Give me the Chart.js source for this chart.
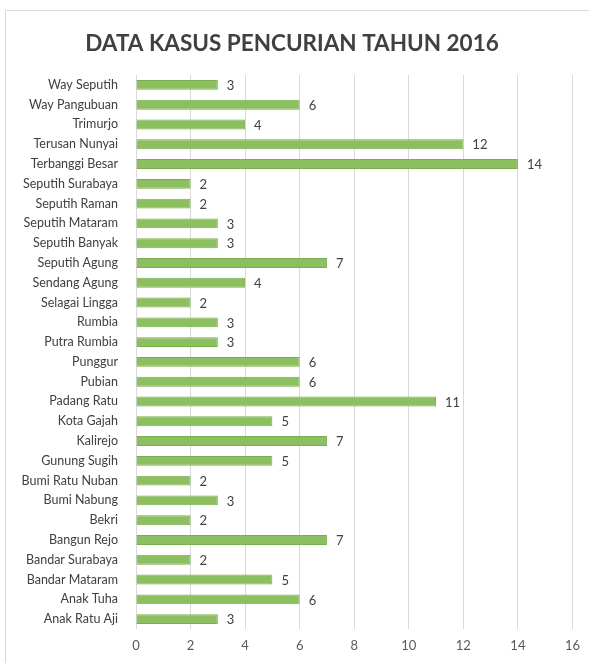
<!DOCTYPE html>
<html>
<head>
<meta charset="utf-8">
<script src="https://cdn.jsdelivr.net/npm/chart.js@4/dist/chart.umd.min.js"></script>
<style>
  html, body { margin: 0; padding: 0; background: #fff; }
  #wrap { position: absolute; left: 5px; top: 10px; width: 590px; height: 660px; border: 1px solid #d9d9d9; box-sizing: border-box; }
  #chart { position: absolute; left: 0; top: 0; }
</style>
</head>
<body>
<div id="wrap"></div>
<canvas id="chart" width="589" height="663"></canvas>
<script>
/* --------------- Data --------------------- */
const kecamatan = [
    "Way Seputih", "Way Pangubuan", "Trimurjo", "Terusan Nunyai", "Terbanggi Besar",
    "Seputih Surabaya", "Seputih Raman", "Seputih Mataram", "Seputih Banyak", "Seputih Agung",
    "Sendang Agung", "Selagai Lingga", "Rumbia", "Putra Rumbia", "Punggur",
    "Pubian", "Padang Ratu", "Kota Gajah", "Kalirejo", "Gunung Sugih",
    "Bumi Ratu Nuban", "Bumi Nabung", "Bekri", "Bangun Rejo", "Bandar Surabaya",
    "Bandar Mataram", "Anak Tuha", "Anak Ratu Aji"
];
const kasus = [3, 6, 4, 12, 14, 2, 2, 3, 3, 7, 4, 2, 3, 3, 6, 6, 11, 5, 7, 5, 2, 3, 2, 7, 2, 5, 6, 3];
const xTicks = [0, 2, 4, 6, 8, 10, 12, 14, 16];

const fontFamily = "Lato, 'Open Sans', sans-serif";

/* --------------- Value labels next to bars --------------------- */
const valueLabels = {
    id: "valueLabels",
    afterDatasetsDraw(chart) {
        const ctx = chart.ctx;
        const meta = chart.getDatasetMeta(0);
        ctx.save();
        ctx.font = "13px " + fontFamily;
        ctx.fillStyle = "#404040";
        ctx.textAlign = "left";
        ctx.textBaseline = "middle";
        meta.data.forEach((bar, i) => {
            ctx.fillText(kasus[i], bar.x + 9, bar.y + 1);
        });
        ctx.restore();
    }
};

/* --------------- Chart --------------------- */
let kasusChart = new Chart(document.getElementById("chart"), {
    type: "bar",
    plugins: [valueLabels],
    data: {
        labels: kecamatan,
        datasets: [{
            data: kasus,
            backgroundColor: "#8cbf5f",
            borderColor: "#7aad4e",
            borderWidth: 1,
            categoryPercentage: 0.5,
            barPercentage: 1
        }]
    },
    options: {
        indexAxis: "y",
        responsive: false,
        animation: false,
        layout: { padding: { left: 6, right: 11, top: 0, bottom: 0 } },
        plugins: {
            legend: { display: false },
            tooltip: { enabled: false },
            title: {
                display: true,
                text: "DATA KASUS PENCURIAN TAHUN 2016",
                color: "#404040",
                font: { size: 22.5, weight: "bold", family: fontFamily },
                padding: { top: 30, bottom: 18 }
            }
        },
        scales: {
            x: {
                min: 0,
                max: 16,
                afterBuildTicks: (scale) => { scale.ticks = xTicks.map(v => ({ value: v })); },
                afterFit: (scale) => { scale.height = 34; },
                grid: { color: "#d9d9d9", drawTicks: false },
                border: { display: false },
                ticks: { color: "#595959", font: { size: 13, family: fontFamily }, padding: 9 }
            },
            y: {
                afterFit: (scale) => { scale.width = 130; },
                grid: { display: false },
                border: { display: false },
                ticks: { color: "#404040", font: { size: 12.5, family: fontFamily }, padding: 10, autoSkip: false }
            }
        }
    }
});
</script>
</body>
</html>
